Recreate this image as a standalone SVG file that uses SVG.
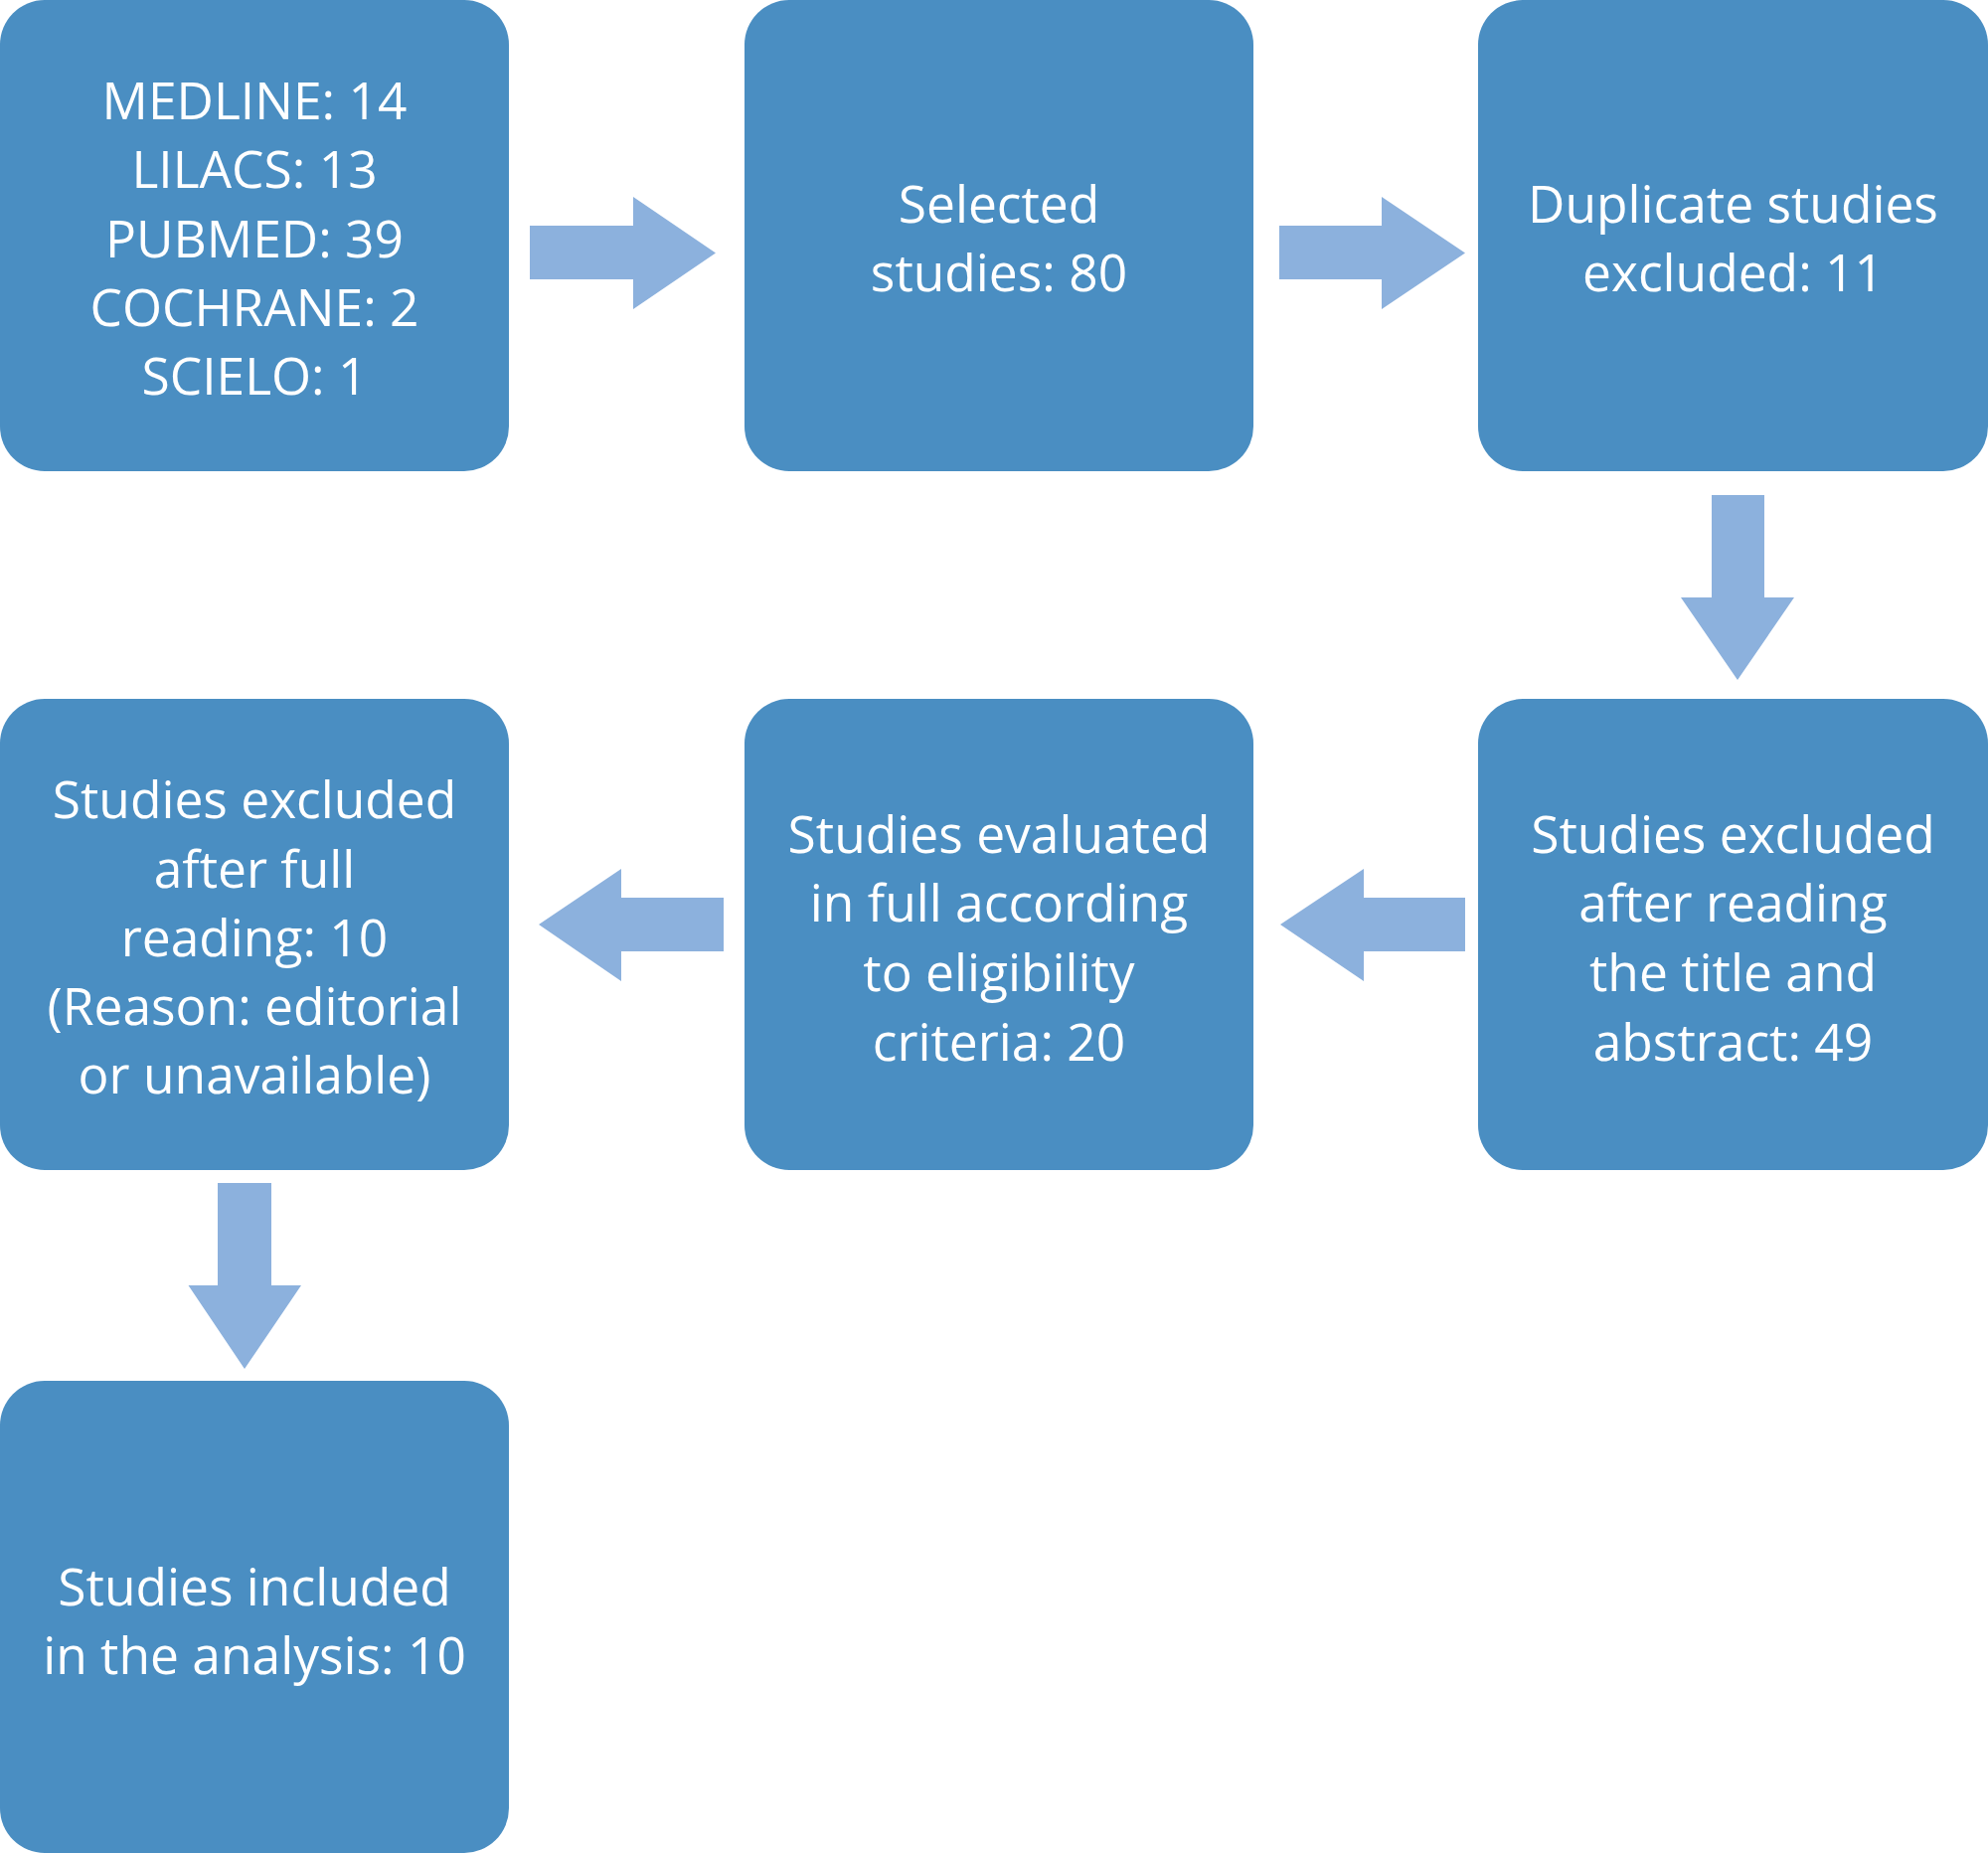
<svg xmlns="http://www.w3.org/2000/svg" width="2000" height="1864" viewBox="0 0 2000 1864">
<style>
.box{fill:#4A8EC2}
.arr{fill:#8CB1DD}
text{font-family:"Open Sans","Noto Sans","Liberation Sans",sans-serif;font-size:51.5px;fill:#FFFFFF;text-anchor:middle}
</style>
<rect x="0" y="0" width="2000" height="1864" fill="#FFFFFF"/>
<g id="connectors">
<polygon class="arr" points="533,227 637,227 637,198 720,254.5 637,311 637,281 533,281"/>
<polygon class="arr" points="1287,227 1390,227 1390,198 1474,254.5 1390,311 1390,281 1287,281"/>
<polygon class="arr" points="1722,498 1775,498 1775,601 1805,601 1748,684 1691,601 1722,601"/>
<polygon class="arr" points="1474,903 1372,903 1372,874 1288,930 1372,987 1372,957 1474,957"/>
<polygon class="arr" points="728,903 625,903 625,874 542,930 625,987 625,957 728,957"/>
<polygon class="arr" points="219,1190 273,1190 273,1293 303,1293 246,1377 189.5,1293 219,1293"/>
</g>
<g id="node-sources">
<rect class="box" x="0" y="0" width="512" height="474" rx="45" ry="45"/>
<text x="256" y="120">MEDLINE: 14</text>
<text x="256" y="189.3">LILACS: 13</text>
<text x="256" y="258.6">PUBMED: 39</text>
<text x="256" y="327.9">COCHRANE: 2</text>
<text x="256" y="397.2">SCIELO: 1</text>
</g>
<g id="node-selected">
<rect class="box" x="749" y="0" width="512" height="474" rx="45" ry="45"/>
<text x="1005" y="224">Selected</text>
<text x="1005" y="293">studies: 80</text>
</g>
<g id="node-duplicates">
<rect class="box" x="1487" y="0" width="513" height="474" rx="45" ry="45"/>
<text x="1743.5" y="224">Duplicate studies</text>
<text x="1743.5" y="293">excluded: 11</text>
</g>
<g id="node-title-abstract">
<rect class="box" x="1487" y="703" width="513" height="474" rx="45" ry="45"/>
<text x="1743.5" y="857.5">Studies excluded</text>
<text x="1743.5" y="927">after reading</text>
<text x="1743.5" y="996.5">the title and</text>
<text x="1743.5" y="1066.5">abstract: 49</text>
</g>
<g id="node-evaluated">
<rect class="box" x="749" y="703" width="512" height="474" rx="45" ry="45"/>
<text x="1005" y="857.5">Studies evaluated</text>
<text x="1005" y="927">in full according</text>
<text x="1005" y="996.5">to eligibility</text>
<text x="1005" y="1066.5">criteria: 20</text>
</g>
<g id="node-full-reading">
<rect class="box" x="0" y="703" width="512" height="474" rx="45" ry="45"/>
<text x="256" y="823.3">Studies excluded</text>
<text x="256" y="892.5">after full</text>
<text x="256" y="961.8">reading: 10</text>
<text x="256" y="1031">(Reason: editorial</text>
<text x="256" y="1100.3">or unavailable)</text>
</g>
<g id="node-included">
<rect class="box" x="0" y="1389" width="512" height="475" rx="45" ry="45"/>
<text x="256" y="1614.5">Studies included</text>
<text x="256" y="1683.5">in the analysis: 10</text>
</g>
</svg>
